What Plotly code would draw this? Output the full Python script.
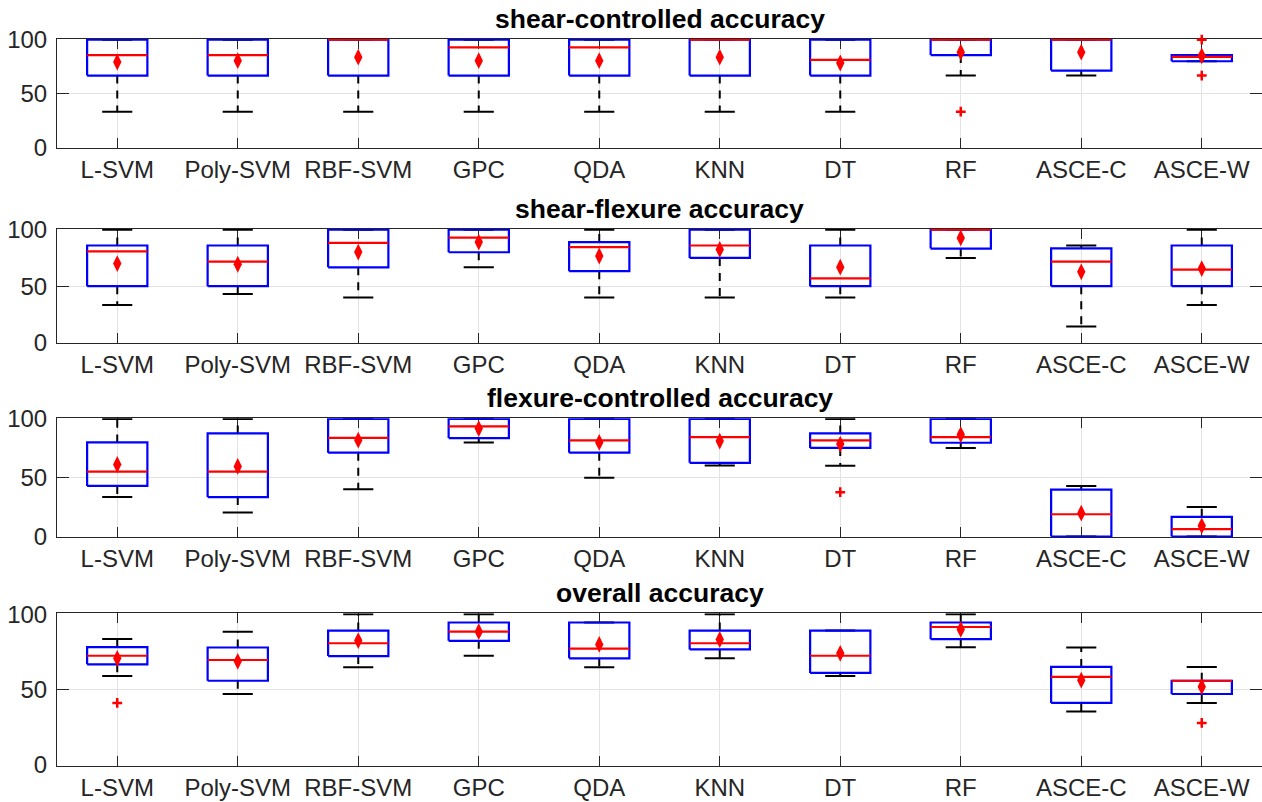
import plotly.graph_objects as go

categories = ["L-SVM", "Poly-SVM", "RBF-SVM", "GPC", "QDA", "KNN", "DT", "RF", "ASCE-C", "ASCE-W"]
titles = ["shear-controlled accuracy", "shear-flexure accuracy",
          "flexure-controlled accuracy", "overall accuracy"]

# Panel 1: shear-controlled
sc_q1 = [66.7, 66.7, 66.7, 66.7, 66.7, 66.7, 66.7, 85.7, 71.4, 80.0]
sc_med = [85.7, 85.7, 100, 92.9, 92.9, 100, 81.2, 100, 100, 84.1]
sc_q3 = [100, 100, 100, 100, 100, 100, 100, 100, 100, 85.7]
sc_lo = [33.3, 33.3, 33.3, 33.3, 33.3, 33.3, 33.3, 66.7, 66.7, 80.0]
sc_hi = [100, 100, 100, 100, 100, 100, 100, 100, 100, 85.7]
sc_mean = [79.3, 80.5, 83.8, 80.5, 80.5, 83.8, 78.4, 88.4, 88.4, 85.0]
sc_out = [[], [], [], [], [], [], [], [33.3], [], [100, 66.7]]

# Panel 2: shear-flexure
sf_q1 = [50, 50, 66.7, 80, 63.3, 75, 50, 83.3, 50, 50]
sf_med = [80.8, 71.8, 88.3, 93.0, 84.5, 86.0, 56.8, 100, 71.7, 64.7]
sf_q3 = [86, 86, 100, 100, 89, 100, 86, 100, 83.4, 86]
sf_lo = [33.3, 43.0, 40.0, 66.7, 40.0, 40.0, 40.0, 75.0, 14.3, 33.3]
sf_hi = [100, 100, 100, 100, 100, 100, 100, 100, 86, 100]
sf_mean = [70.0, 69.4, 80.2, 89.0, 76.7, 82.5, 66.8, 92.7, 62.7, 65.6]
sf_out = [[], [], [], [], [], [], [], [], [], []]

# Panel 3: flexure-controlled
fc_q1 = [43.1, 33.6, 71.4, 83.8, 71.4, 62.7, 75.4, 79.8, 0, 0]
fc_med = [55.2, 55.2, 84.0, 93.8, 81.8, 84.6, 81.8, 84.6, 19.0, 6.4]
fc_q3 = [80.1, 87.7, 100, 100, 100, 100, 87.7, 100, 40.0, 16.8]
fc_lo = [33.6, 20.4, 40.3, 80.1, 50.0, 60.5, 60.2, 75.4, 0, 0]
fc_hi = [100, 100, 100, 100, 100, 100, 100, 100, 43.1, 25.2]
fc_mean = [61.3, 59.7, 82.0, 91.9, 80.1, 81.2, 78.7, 86.8, 19.9, 9.2]
fc_out = [[], [], [], [], [], [], [37.8], [], [], []]

# Panel 4: overall
ov_q1 = [66.7, 55.8, 72.2, 82.3, 70.7, 76.6, 61.0, 83.4, 41.1, 47.0]
ov_med = [72.4, 69.6, 80.7, 88.4, 77.2, 80.7, 72.4, 91.5, 58.4, 55.8]
ov_q3 = [78.1, 77.9, 89.1, 94.5, 94.5, 89.1, 89.1, 94.5, 65.0, 55.8]
ov_lo = [58.9, 47.0, 64.8, 72.4, 64.8, 70.7, 58.9, 78.0, 35.4, 41.1]
ov_hi = [83.6, 88.4, 100, 100, 94.5, 100, 89.1, 100, 77.9, 65.0]
ov_mean = [70.7, 68.7, 82.5, 88.4, 79.9, 83.2, 74.0, 89.9, 56.2, 51.9]
ov_out = [[41.1], [], [], [], [], [], [], [], [], [27.8]]

panels = [
    (sc_q1, sc_med, sc_q3, sc_lo, sc_hi, sc_mean, sc_out),
    (sf_q1, sf_med, sf_q3, sf_lo, sf_hi, sf_mean, sf_out),
    (fc_q1, fc_med, fc_q3, fc_lo, fc_hi, fc_mean, fc_out),
    (ov_q1, ov_med, ov_q3, ov_lo, ov_hi, ov_mean, ov_out),
]

W, H = 1262, 802
# vertical pixel extents of each axes (top, bottom)
pix = [(39, 148.3), (229, 343.3), (418.3, 537.3), (613.3, 765.7)]

BOXW = 0.25   # half box width
CAPW = 0.125  # half cap width
FRAME = "#262626"
GRID = "#e3e3e3"

fig = go.Figure()
layout = dict(
    width=W, height=H,
    margin=dict(l=57, r=0, t=0, b=0, autoexpand=False),
    paper_bgcolor="white", plot_bgcolor="white",
    showlegend=False,
    font=dict(family="Liberation Sans, Arial, sans-serif", color=FRAME),
)
annotations = []

for p, (q1, med, q3, lo, hi, mn, outs) in enumerate(panels):
    xa = "x" if p == 0 else f"x{p+1}"
    ya = "y" if p == 0 else f"y{p+1}"
    xs = list(range(1, len(categories) + 1))

    # whiskers (dashed)
    wx, wy = [], []
    for i, x in enumerate(xs):
        if hi[i] > q3[i]:
            wx += [x, x, None]; wy += [q3[i], hi[i], None]
        if lo[i] < q1[i]:
            wx += [x, x, None]; wy += [q1[i], lo[i], None]
    fig.add_trace(go.Scatter(x=wx, y=wy, mode="lines", xaxis=xa, yaxis=ya,
                             line=dict(color="black", width=2, dash="8px,7px"),
                             hoverinfo="skip"))
    # caps
    cx, cy = [], []
    for i, x in enumerate(xs):
        cx += [x - CAPW, x + CAPW, None, x - CAPW, x + CAPW, None]
        cy += [hi[i], hi[i], None, lo[i], lo[i], None]
    fig.add_trace(go.Scatter(x=cx, y=cy, mode="lines", xaxis=xa, yaxis=ya,
                             line=dict(color="black", width=2), hoverinfo="skip"))
    # boxes
    bx, by = [], []
    for i, x in enumerate(xs):
        bx += [x - BOXW, x + BOXW, x + BOXW, x - BOXW, x - BOXW, None]
        by += [q1[i], q1[i], q3[i], q3[i], q1[i], None]
    fig.add_trace(go.Scatter(x=bx, y=by, mode="lines", xaxis=xa, yaxis=ya,
                             line=dict(color="#0000ff", width=2.2), hoverinfo="skip"))
    # medians
    mx, my = [], []
    for i, x in enumerate(xs):
        mx += [x - BOXW, x + BOXW, None]
        my += [med[i], med[i], None]
    fig.add_trace(go.Scatter(x=mx, y=my, mode="lines", xaxis=xa, yaxis=ya,
                             line=dict(color="#ff0000", width=2.2), hoverinfo="skip"))
    # outliers
    ox, oy = [], []
    for i, x in enumerate(xs):
        for v in outs[i]:
            ox.append(x); oy.append(v)
    if ox:
        fig.add_trace(go.Scatter(x=ox, y=oy, mode="markers", xaxis=xa, yaxis=ya,
                                 cliponaxis=False,
                                 marker=dict(symbol="cross-thin", size=7,
                                             line=dict(color="#ff0000", width=2.5))))
    # means
    fig.add_trace(go.Scatter(x=xs, y=mn, mode="markers", xaxis=xa, yaxis=ya,
                             cliponaxis=False,
                             marker=dict(symbol="diamond-tall", size=12, color="#ff0000",
                                         line=dict(width=0))))

    top, bot = pix[p]
    dom = [1 - bot / H, 1 - top / H]
    xkey = "xaxis" if p == 0 else f"xaxis{p+1}"
    ykey = "yaxis" if p == 0 else f"yaxis{p+1}"
    layout[xkey] = dict(
        domain=[0, 1], anchor=ya, range=[0.5, 10.5],
        tickmode="array", tickvals=xs, ticktext=categories,
        ticks="inside", ticklen=10, tickwidth=1, tickcolor=FRAME,
        showline=True, linecolor=FRAME, linewidth=1, mirror="ticks",
        showgrid=True, gridcolor=GRID, gridwidth=1, zeroline=False,
        tickfont=dict(size=24, color=FRAME), layer="below traces",
        ticklabelstandoff=0, automargin=False,
    )
    layout[ykey] = dict(
        domain=dom, anchor=xa, range=[-0.6, 100.6],
        tickmode="array", tickvals=[0, 50, 100], ticktext=["0", "50", "100"],
        ticks="inside", ticklen=12, tickwidth=1, tickcolor=FRAME,
        showline=True, linecolor=FRAME, linewidth=1, mirror="ticks",
        showgrid=True, gridcolor=GRID, gridwidth=1, zeroline=False,
        tickfont=dict(size=24, color=FRAME), layer="below traces",
        ticklabelstandoff=4, automargin=False,
    )
    annotations.append(dict(
        text=f"<b>{titles[p]}</b>", x=0.5, xref="paper", y=dom[1], yref="paper",
        xanchor="center", yanchor="bottom", yshift=3, showarrow=False,
        font=dict(size=26.5, color="black", family="Liberation Sans, Arial, sans-serif"),
    ))

layout["annotations"] = annotations
fig.update_layout(**layout)
fig.write_html(
    "out.html",
    config={"displayModeBar": False},
    post_script="document.body.style.margin='0px';document.body.style.overflow='hidden';",
)
